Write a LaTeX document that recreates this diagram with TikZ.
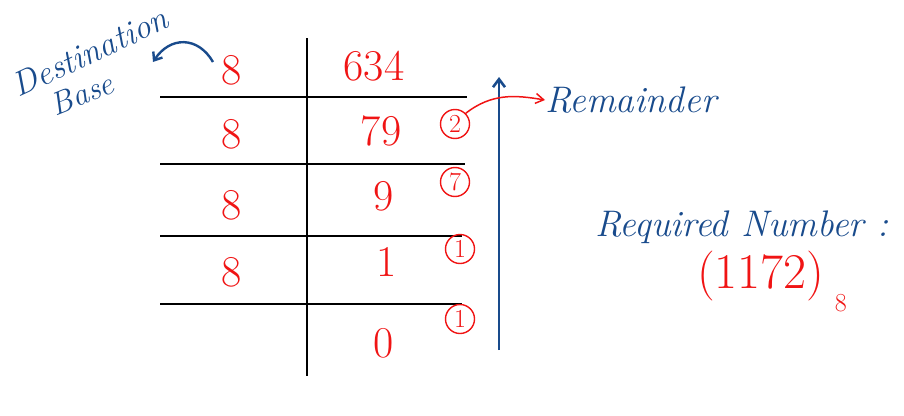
\documentclass[tikz,border=0pt]{standalone}
\usetikzlibrary{arrows.meta}
\definecolor{hred}{RGB}{240,20,20}
\definecolor{hblue}{RGB}{25,75,140}
\tikzset{
  rule/.style={line width=2.8pt, black},
  dig/.style={text=hred, font=\fontsize{44}{44}\selectfont, inner sep=0pt},
  rem/.style={circle, draw=hred, line width=1.4pt, text=hred, minimum size=29pt, inner sep=0pt, font=\fontsize{26}{26}\selectfont},
  note/.style={text=hblue, font=\itshape\fontsize{37}{37}\selectfont, inner sep=0pt},
}
\begin{document}
\begin{tikzpicture}[x=1pt,y=-1pt]
\useasboundingbox (0,0) rectangle (904,415);
% grid
\coordinate (vt) at (307,38);
\coordinate (vb) at (307,376);
\draw[rule] (vt) -- (vb);
\coordinate (h1a) at (160,97);  \coordinate (h1b) at (467,97);
\coordinate (h2a) at (160,164); \coordinate (h2b) at (465,164);
\coordinate (h3a) at (160,236); \coordinate (h3b) at (462,236);
\coordinate (h4a) at (160,304); \coordinate (h4b) at (462,304);
\draw[rule] (h1a) -- (h1b);
\draw[rule] (h2a) -- (h2b);
\draw[rule] (h3a) -- (h3b);
\draw[rule] (h4a) -- (h4b);
% divisors
\node[dig] (d1) at (232,70) {8};
\node[dig] (d2) at (232,134) {8};
\node[dig] (d3) at (232,205) {8};
\node[dig] (d4) at (232,272) {8};
% quotients
\node[dig] (q0) at (374,66) {634};
\node[dig] (q1) at (381,131) {79};
\node[dig] (q2) at (384,196) {9};
\node[dig] (q3) at (387,262) {1};
\node[dig] (q4) at (384,343) {0};
% remainders
\node[rem] (r1) at (455,124) {2};
\node[rem] (r2) at (455,182) {7};
\node[rem] (r3) at (460,249) {1};
\node[rem] (r4) at (460,319) {1};
% blue up arrow
\coordinate (ub) at (499,350);
\coordinate (ut) at (499,77);
\draw[hblue, line width=2.6pt, -{Straight Barb[length=8pt,width=12pt]}] (ub) -- (ut);
% remainder label
\node[note, anchor=west] (remlbl) at (545,100) {Remainder};
\draw[hred, line width=1.5pt, -{Straight Barb[length=8pt,width=10pt]}]
  (r1.north east) .. controls (492,93) and (515,95) .. (remlbl.west);
% destination base
\node[note, rotate=25, font=\itshape\fontsize{34}{34}\selectfont] (dest) at (90,52) {Destination};
\node[note, rotate=22, font=\itshape\fontsize{32}{32}\selectfont] (base) at (82,94) {Base};
\coordinate (ca) at (213,62);
\coordinate (cb) at (153,62);
\draw[hblue, line width=2.4pt, -{Straight Barb[length=7pt,width=11pt]}]
  (ca) .. controls (198,36) and (170,36) .. (cb);
% required number
\node[note, anchor=west] (req) at (595,227) {Required Number :};
\node[dig, anchor=west, font=\fontsize{50}{50}\selectfont] (ans) at (697,276) {(1172)};
\node[text=hred, font=\fontsize{26}{26}\selectfont, anchor=west, inner sep=0pt] (sub) at ([xshift=10pt,yshift=-2pt]ans.south east) {8};
\end{tikzpicture}
\end{document}
